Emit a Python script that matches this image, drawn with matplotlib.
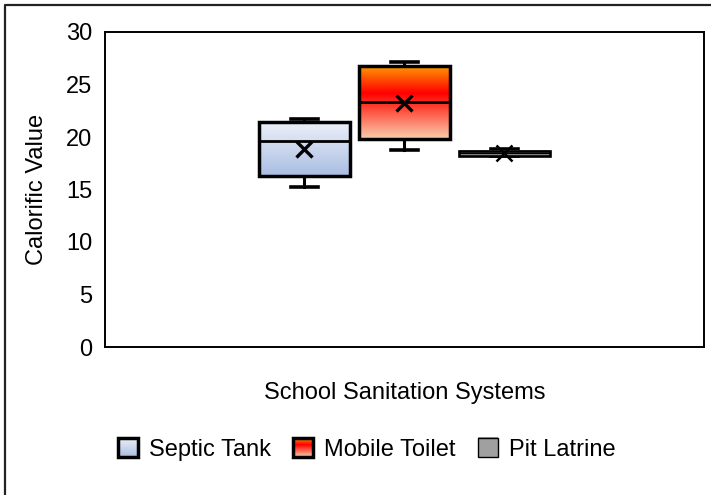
import matplotlib
matplotlib.use('Agg')
import matplotlib.pyplot as plt
import numpy as np
from matplotlib.patches import Rectangle
from matplotlib.lines import Line2D
from matplotlib.colors import LinearSegmentedColormap
from matplotlib.legend_handler import HandlerBase
from matplotlib.image import BboxImage
from matplotlib.transforms import Bbox, TransformedBbox

plt.rcParams['font.family'] = ['Liberation Sans', 'DejaVu Sans']

# ---- data ----
systems = ['Septic Tank', 'Mobile Toilet', 'Pit Latrine']
whisker_low = [15.25, 18.75, 18.19]
q1 = [16.3, 19.8, 18.19]
median = [19.6, 23.3, 18.44]
q3 = [21.45, 26.8, 18.7]
whisker_high = [21.75, 27.1, 18.86]
mean = [18.9, 23.2, 18.5]
yticks = [0, 5, 10, 15, 20, 25, 30]
xlabel = 'School Sanitation Systems'
ylabel = 'Calorific Value'

# ---- styles ----
cmaps = [
    LinearSegmentedColormap.from_list('septic', [(0, '#eef1f9'), (1, '#a9bde2')]),
    LinearSegmentedColormap.from_list('mobile', [(0, '#ff9c00'), (0.38, '#ff0000'),
                                                 (0.55, '#ff3a2a'), (1, '#f8cfb0')]),
    LinearSegmentedColormap.from_list('pit', [(0, '#a0a0a0'), (1, '#a0a0a0')]),
]
FS = 17

W, H = 711, 495
fig = plt.figure(figsize=(W / 100, H / 100), dpi=100)
ax = fig.add_axes([105 / W, 1 - 347 / H, (704 - 105) / W, (347 - 32) / H])

positions = [-1, 0, 1]
stats = []
for i, name in enumerate(systems):
    stats.append(dict(label=name, whislo=whisker_low[i], q1=q1[i], med=median[i],
                      q3=q3[i], whishi=whisker_high[i], mean=mean[i], fliers=[]))

bw = 0.91
res = ax.bxp(stats, positions=positions, widths=bw, capwidths=0.27,
             patch_artist=True, showmeans=True, showfliers=False,
             boxprops=dict(facecolor='none', edgecolor='black', linewidth=2.5, zorder=3),
             medianprops=dict(color='black', linewidth=2.0, zorder=4),
             whiskerprops=dict(color='black', linewidth=2.2),
             capprops=dict(color='black', linewidth=2.6),
             meanprops=dict(marker='x', markeredgecolor='black', markersize=11,
                            markeredgewidth=2.4, zorder=5))
# thinner pit latrine box so its grey fill stays visible
res['boxes'][2].set_linewidth(1.9)
res['medians'][2].set_linewidth(1.0)
res['means'][2].set_markeredgewidth(1.8)

grad = np.linspace(0, 1, 256).reshape(-1, 1)
for i, p in enumerate(positions):
    ax.imshow(grad, cmap=cmaps[i], extent=[p - bw / 2, p + bw / 2, q1[i], q3[i]],
              aspect='auto', origin='upper', zorder=2, interpolation='bilinear')

ax.set_xlim(-2.99, 3.0)
ax.set_ylim(0, 30)
ax.set_yticks(yticks)
ax.set_xticks([])
ax.tick_params(axis='y', length=0, pad=9, labelsize=FS)
for s in ax.spines.values():
    s.set_linewidth(1.4)
    s.set_color('black')
ax.set_ylabel(ylabel, fontsize=FS, labelpad=13)
ax.set_xlabel(xlabel, fontsize=FS, labelpad=25)


class GradHandler(HandlerBase):
    def __init__(self, cmap, lw):
        super().__init__()
        self.cmap = cmap
        self.lw = lw

    def create_artists(self, legend, orig_handle, xdescent, ydescent, width, height,
                       fontsize, trans):
        s = height * 0.92
        x0 = -xdescent + (width - s) / 2
        y0 = -ydescent + (height - s) / 2
        bbox = TransformedBbox(Bbox.from_bounds(x0, y0, s, s), trans)
        img = BboxImage(bbox, cmap=self.cmap, interpolation='bilinear')
        img.set_data(np.linspace(0, 1, 64).reshape(-1, 1))
        rect = Rectangle((x0, y0), s, s, facecolor='none', edgecolor='black',
                         linewidth=self.lw, transform=trans)
        return [img, rect]


handles = [Rectangle((0, 0), 1, 1) for _ in systems]
hmap = {handles[0]: GradHandler(cmaps[0], 2.5),
        handles[1]: GradHandler(cmaps[1], 2.5),
        handles[2]: GradHandler(cmaps[2], 1.0)}
fig.legend(handles, systems, handler_map=hmap, loc='center',
           bbox_to_anchor=(366 / W, 1 - 449 / H), ncol=3, frameon=False,
           fontsize=FS, handlelength=1.0, handleheight=1.0, handletextpad=0.4,
           columnspacing=0.85, borderpad=0.2)

# outer frame (left and top edges visible)
fig.add_artist(Line2D([4.5 / W, 4.5 / W, 1.0], [0, 1 - 4.5 / H, 1 - 4.5 / H],
                      transform=fig.transFigure, color='#222222', linewidth=1.6))

fig.savefig('out.png', dpi=100)
